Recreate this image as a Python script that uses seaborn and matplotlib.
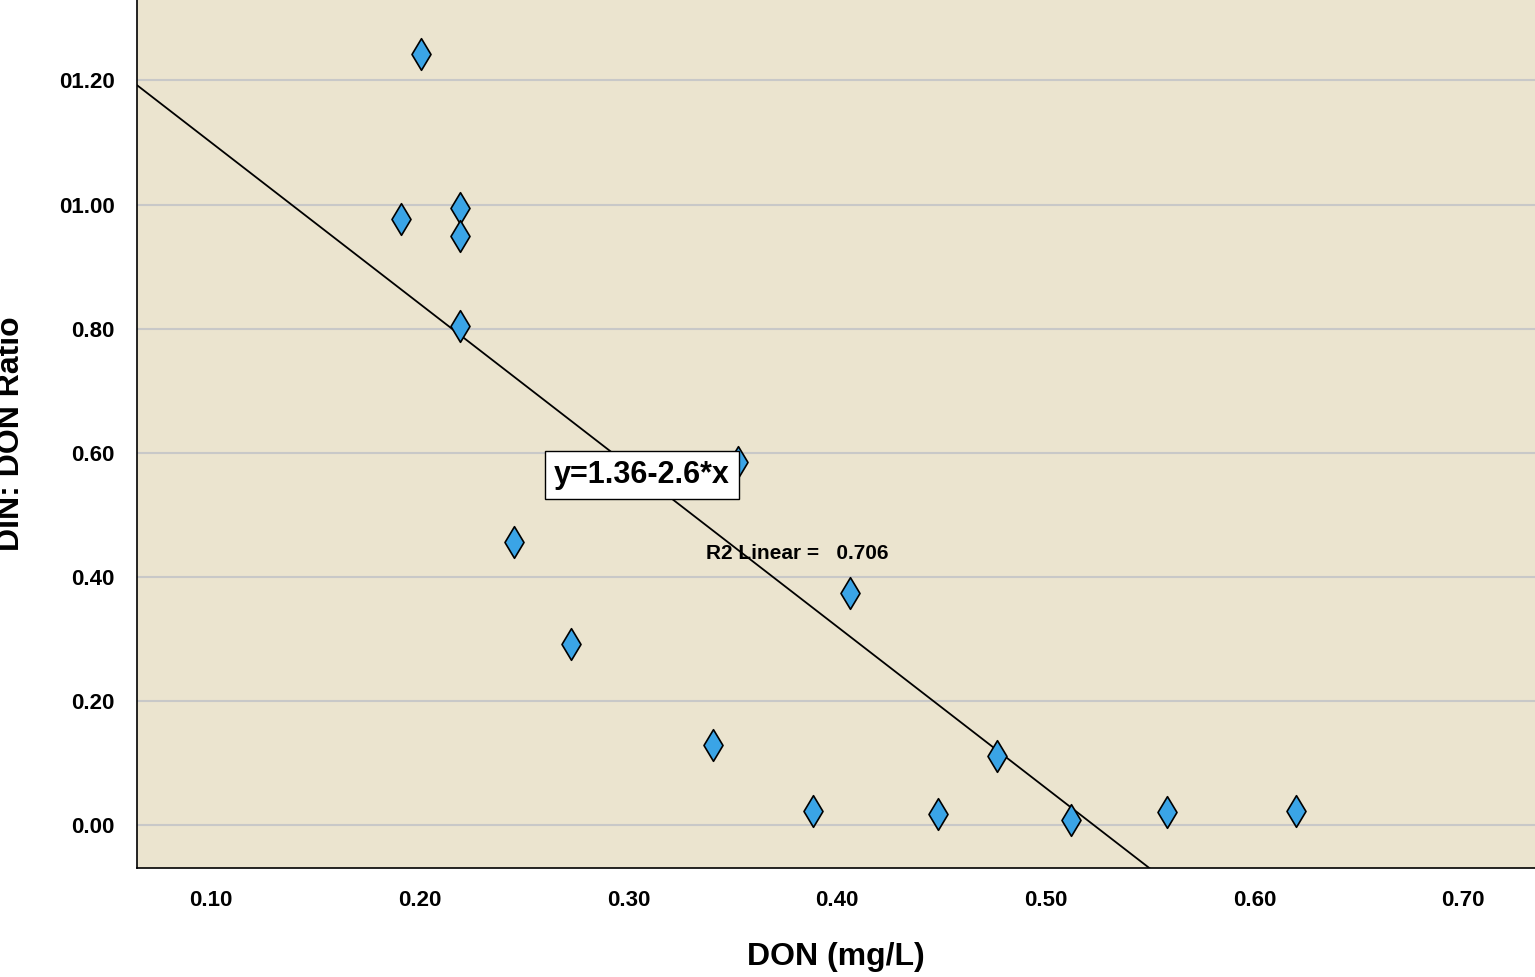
import matplotlib
matplotlib.use("Agg")
import matplotlib.pyplot as plt
import seaborn as sns
import numpy as np
import pandas as pd

don = [0.2006, 0.191, 0.2193, 0.2193, 0.2193, 0.2452, 0.2725, 0.3525, 0.3405, 0.3885, 0.4062, 0.4483, 0.4766, 0.512, 0.558, 0.620]
ratio = [1.243, 0.976, 0.994, 0.949, 0.804, 0.456, 0.292, 0.585, 0.129, 0.023, 0.374, 0.018, 0.111, 0.008, 0.021, 0.023]
xticks = [0.10, 0.20, 0.30, 0.40, 0.50, 0.60, 0.70]
yticks = [0.00, 0.20, 0.40, 0.60, 0.80, 1.00, 1.20]
ytick_labels = ["0.00", "0.20", "0.40", "0.60", "0.80", "01.00", "01.20"]
intercept, slope = 1.36, -2.6

plt.rcParams['font.family'] = ['Liberation Sans', 'DejaVu Sans']
df = pd.DataFrame({"DON": don, "ratio": ratio})
fig = plt.figure(figsize=(15.35, 9.77), dpi=100)
ax = fig.add_axes([0.0893, 0.1116, 0.9107, 0.888])
ax.set_facecolor("#ebe4cf")
ax.set_xlim(0.0645, 0.7345)
ax.set_ylim(-0.069, 1.329)
for yt in yticks:
    ax.axhline(yt, color="#c8c8c8", lw=1.5, zorder=0)
lx = np.array([0.0645, 0.7345])
ax.plot(lx, intercept + slope * lx, color="black", lw=1.3, zorder=2)
sns.scatterplot(data=df, x="DON", y="ratio", marker="d", s=260, color="#3aa4e6",
                edgecolor="black", linewidth=1.2, ax=ax, zorder=3)
ax.set_xticks(xticks)
ax.set_xticklabels([f"{v:.2f}" for v in xticks], fontsize=16, fontweight="bold")
ax.set_yticks(yticks)
ax.set_yticklabels(ytick_labels, fontsize=16, fontweight="bold")
ax.tick_params(length=0, pad=16)
ax.set_xlabel("DON (mg/L)", fontsize=23, fontweight="bold", labelpad=22)
ax.set_ylabel("DIN: DON Ratio", fontsize=23, fontweight="bold", labelpad=24)
for s in ["top", "right"]:
    ax.spines[s].set_visible(False)
for s in ["left", "bottom"]:
    ax.spines[s].set_color("black")
    ax.spines[s].set_linewidth(1.2)
ax.text(0.3065, 0.564, "y=1.36-2.6*x", fontsize=22, fontweight="bold", ha="center", va="center",
        bbox=dict(facecolor="white", edgecolor="black", boxstyle="square,pad=0.3"), zorder=4)
ax.text(0.337, 0.438, "R2 Linear =   0.706", fontsize=15, fontweight="bold", ha="left", va="center", zorder=4)
fig.savefig("out.png", dpi=100)
